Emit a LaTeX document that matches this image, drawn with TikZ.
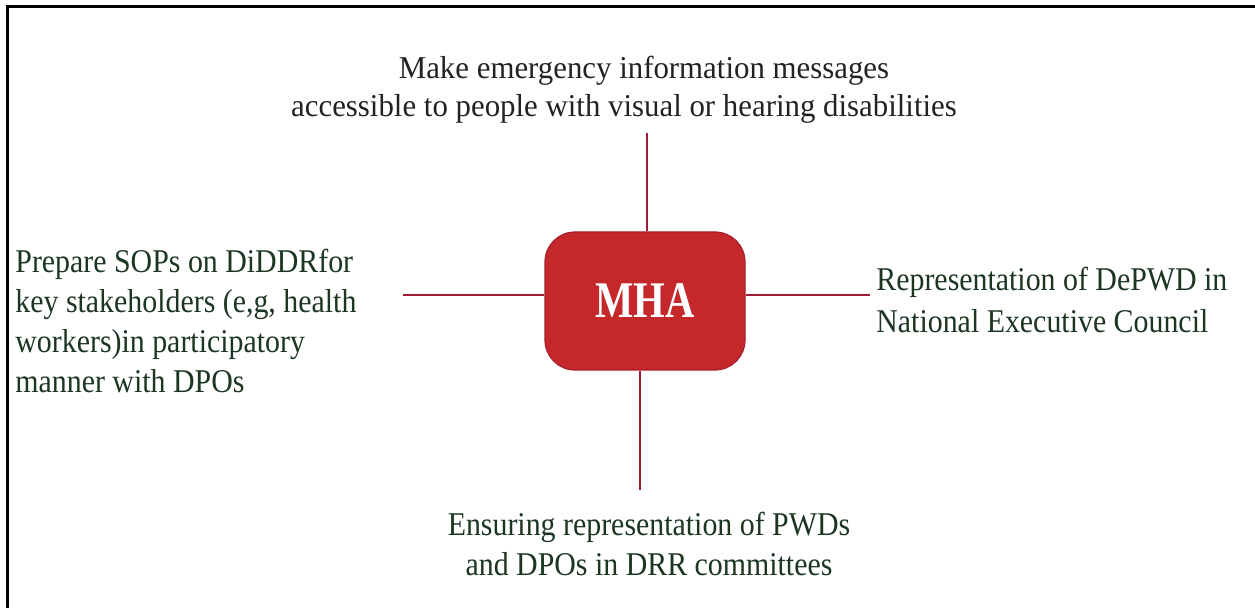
\documentclass[tikz,border=0pt]{standalone}
\usepackage{fontspec}
\setmainfont{Liberation Serif}
\newfontfamily\taskfont[FakeStretch=0.90]{Liberation Serif}
\newfontfamily\headfont[FakeStretch=0.97]{Liberation Serif}
\newfontfamily\hubfont[FakeStretch=0.79]{Liberation Serif}
\usetikzlibrary{positioning}
\definecolor{mhared}{RGB}{197, 40, 43}
\definecolor{mhaedge}{RGB}{168, 30, 44}
\definecolor{linkred}{RGB}{158, 28, 52}
\definecolor{taskgreen}{RGB}{28, 54, 34}
\definecolor{headgray}{RGB}{34, 34, 34}
\tikzset{%
    hub/.style={%
        rectangle, rounded corners=15pt, fill=mhared, draw=mhaedge,
        line width=0.6pt, minimum width=100pt, minimum height=69pt,
        text=white, font=\hubfont\bfseries\fontsize{25.7}{30}\selectfont
    },
    task/.style={%
        inner sep=0pt, text=taskgreen,
        font=\taskfont\fontsize{16.6}{20}\selectfont
    },
    head/.style={%
        inner sep=0pt, text=headgray, align=center,
        font=\headfont\fontsize{15.9}{19}\selectfont
    },
    link/.style={draw=linkred, line width=1pt}
}

\begin{document}
\begin{tikzpicture}[x=0.5pt, y=-0.5pt]

    \useasboundingbox (0, 0) rectangle (1255, 608);
    \draw[line width=1.5pt] (7, 620) -- (7, 7) -- (1270, 7);

    \node[hub] (mha) at (645, 301) {MHA};

    \node[head, anchor=north] (access) at (624, 56) {%
        \hspace*{20pt}Make emergency information messages\\
        accessible to people with visual or hearing disabilities
    };
    \node[task, align=left, anchor=north west] (sops) at (15, 249) {%
        Prepare SOPs on DiDDRfor\\
        key stakeholders (e,g, health\\
        workers)in participatory\\
        manner with DPOs
    };
    \node[task, align=left, anchor=north west] (depwd) at (876, 267) {%
        Representation of DePWD in\\[1pt]
        National Executive Council
    };
    \node[task, align=center, anchor=north] (pwds) at (649, 512) {%
        Ensuring representation of PWDs\\
        and DPOs in DRR committees
    };

    % free ends of the four spokes
    \coordinate (topend) at (647, 133);
    \coordinate (leftend) at (403, 295);
    \coordinate (rightend) at (870, 295);
    \coordinate (bottomend) at (640, 490);

    \draw[link] (mha.north -| topend) -- (topend);
    \draw[link] (mha.west |- leftend) -- (leftend);
    \draw[link] (mha.east |- rightend) -- (rightend);
    \draw[link] (mha.south -| bottomend) -- (bottomend);

\end{tikzpicture}
\end{document}
